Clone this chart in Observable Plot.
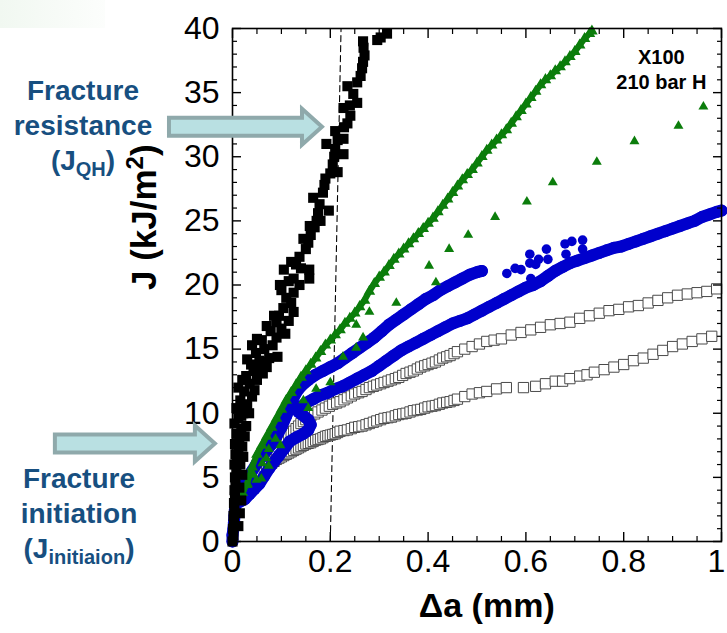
<!DOCTYPE html>
<html>
<head>
<meta charset="utf-8">
<script src="https://cdn.jsdelivr.net/npm/d3@7"></script>
<script src="https://cdn.jsdelivr.net/npm/@observablehq/plot@0.6"></script>
<style>
  body { margin: 0; background: #fff; }
  #wrap { position: relative; width: 727px; height: 633px; overflow: hidden; font-family: "Liberation Sans", Arial, sans-serif; }
  #wrap svg { position: absolute; left: 0; top: 0; }
  .tint { position: absolute; left: 0; top: 0; width: 105px; height: 28px; background: linear-gradient(to right, rgba(215,235,215,0.35), rgba(235,245,235,0.15)); }
  .note { position: absolute; width: 170px; text-align: center; color: #174f80; font-weight: bold; font-size: 28px; line-height: 35px; }
  .note sub { font-size: 20px; line-height: 0; vertical-align: -6px; }
</style>
</head>
<body>
<div id="wrap">
  <div class="tint"></div>
</div>
<script>
// ---- axis ticks and labels ----
const xMajor = [0, 0.2, 0.4, 0.6, 0.8, 1];
const xTickLabels = ["0", "0.2", "0.4", "0.6", "0.8", "1"];
const xMinor = [0.05, 0.1, 0.15, 0.25, 0.3, 0.35, 0.45, 0.5, 0.55, 0.65, 0.7, 0.75, 0.85, 0.9, 0.95];
const yMajor = [0, 5, 10, 15, 20, 25, 30, 35, 40];
const yTickLabels = ["0", "5", "10", "15", "20", "25", "30", "35", "40"];
const yMinor = [1,2,3,4,6,7,8,9,11,12,13,14,16,17,18,19,21,22,23,24,26,27,28,29,31,32,33,34,36,37,38,39];
const xTitle = "Δa (mm)";
const yTitle = "J (kJ/m²)";
const specimenLabel = "X100\n210 bar H";

// ---- series: [Δa (mm), J (kJ/m²)] ----
const blackSquares = [
  [0,0],[0.002,0.5],[0.001,1],[0.003,1.5],[0.002,2],[0.004,2.5],[0.003,3],[0.005,3.5],[0.004,4],[0.006,4.5],
  [0.005,5],[0.008,5.5],[0.004,6],[0.01,6.3],[0.006,6.8],[0.012,7.2],[0.005,7.6],[0.014,8],[0.008,8.4],[0.018,8.8],
  [0.004,9.2],[0.012,9.6],[0.022,10],[0.008,10.4],[0.03,10.7],[0.016,11],[0.04,11.3],[0.024,11.7],[0.012,12],[0.035,12.3],
  [0.05,12.6],[0.028,12.9],[0.062,13.1],[0.043,13.3],[0.07,13.6],[0.038,13.8],[0.055,14.1],[0.075,14.3],[0.092,14.4],[0.048,14.7],
  [0.065,15],[0.082,15.3],[0.04,15.3],[0.06,15.7],[0.09,15.9],[0.078,16.4],[0.1,16.6],[0.09,17.1],[0.115,17.2],[0.095,17.6],
  [0.125,17.9],[0.104,18.2],[0.12,18.6],[0.11,19],[0.125,19.4],[0.097,20],[0.137,20],[0.125,20.5],[0.157,20.5],[0.105,21.2],
  [0.157,21.2],[0.13,21.6],[0.137,22.2],[0.15,22.8],[0.155,23.3],[0.16,23.9],[0.168,24.5],[0.172,25],[0.197,25.8],[0.175,25.6],
  [0.178,26.3],[0.165,26.8],[0.185,27.2],[0.188,27.8],[0.19,28.3],[0.2,28.7],[0.215,28.8],[0.205,29.4],[0.208,30],[0.227,30.2],
  [0.21,30.6],[0.192,31],[0.215,31.3],[0.227,31.4],[0.21,32],[0.228,32.3],[0.235,32.6],[0.241,33.2],[0.227,33.8],[0.24,34],
  [0.255,34.2],[0.247,34.9],[0.235,35.5],[0.255,35.8],[0.262,36.3],[0.265,36.9],[0.267,37.4],[0.27,37.9],[0.268,38.5],[0.267,39],
  [0.296,39.1],[0.303,39.3],[0.316,39.6],
  [0.012,1.2],[0.015,2.2],[0.018,3.2],[0.014,4.2],[0.02,5.2],[0.016,6],[0.022,6.6],[0.02,7.4],[0.025,8.2],[0.028,9],
  [0.018,9.8],[0.034,10],[0.026,10.6],[0.045,11.8],[0.02,12.6],[0.055,13.6],[0.03,14.2],[0.068,14],[0.05,15.8],[0.07,16.8],
  [0.085,17.6],[0.108,16.2],[0.1,19.6],[0.115,20.3],[0.14,21.3],[0.12,21.8],[0.145,23.6],[0.158,24.6],[0.18,25]
];

const greenDense = [
  [0.02,3.8],[0.03,4.5],[0.04,5.8],[0.05,6.8],[0.06,7.5],[0.07,8.2],[0.08,8.9],[0.09,9.6],[0.1,10.3],[0.11,11.0],
  [0.12,11.6],[0.13,12.2],[0.14,12.8],[0.15,13.3],[0.16,13.8],[0.17,14.3],[0.18,14.8],[0.19,15.3],[0.2,15.7],[0.21,16.1],
  [0.22,16.5],[0.23,17.0],[0.24,17.4],[0.25,17.8],[0.26,18.3],[0.27,18.8],[0.28,19.5],[0.29,20.1],[0.3,20.6],[0.31,21.0],
  [0.32,21.5],[0.33,22.0],[0.34,22.4],[0.35,22.8],[0.36,23.2],[0.37,23.6],[0.38,24.0],[0.39,24.4],[0.40,24.8],[0.41,25.2],
  [0.42,25.7],[0.43,26.2],[0.44,26.7],[0.45,27.2],[0.46,27.7],[0.47,28.2],[0.48,28.6],[0.49,29.0],[0.50,29.5],[0.51,30.0],
  [0.52,30.5],[0.53,30.9],[0.54,31.3],[0.55,31.7],[0.56,32.1],[0.57,32.6],[0.58,33.1],[0.59,33.6],[0.60,34.1],[0.61,34.6],
  [0.62,35.1],[0.63,35.6],[0.64,36.0],[0.65,36.3],[0.66,36.7],[0.67,37.0],[0.68,37.4],[0.69,37.8],[0.70,38.2],[0.71,38.7],
  [0.72,39.2],[0.73,39.6],[0.735,39.8]
];

const greenSparse = [
  [0.014,4.2],[0.02,4.1],[0.03,4.4],[0.043,5.2],[0.049,4.8],[0.059,4.9],[0.061,6.1],[0.069,6.5],[0.074,5.9],[0.074,7.2],
  [0.088,8.0],[0.098,7.5],[0.145,11.0],[0.155,10.4],[0.171,11.9],[0.2,12.4],[0.226,14.4],[0.253,15.1],[0.267,15.9],[0.253,16.9],
  [0.28,17.9],[0.335,18.6],[0.402,21.5],[0.416,20.2],[0.443,22.8],[0.482,23.9],[0.537,25.3],[0.602,26.5],[0.655,28.0],[0.745,29.6],
  [0.822,31.2],[0.912,32.4],[0.963,33.9]
];

const blueLower = [
  [0,0],[0,0.5],[0.002,1],[0.003,1.5],[0.004,2],[0.005,2.5],[0.007,3],[0.015,3.1],[0.025,3.3],[0.035,3.7],
  [0.045,4.1],[0.055,4.5],[0.065,5.1],[0.075,5.7],[0.085,6.2],[0.095,6.7],[0.105,7.2],[0.117,7.8],[0.13,8.1],[0.145,8.4],
  [0.155,8.7],[0.16,9.1],[0.155,9.5],[0.145,9.8],[0.135,10.1],[0.14,10.5],[0.15,10.8],[0.165,11.1],[0.18,11.4],[0.195,11.6],
  [0.21,11.9],[0.225,12.1],[0.24,12.4],[0.255,12.7],[0.27,13.0],[0.285,13.3],[0.3,13.7],[0.315,14.1],[0.33,14.5],[0.345,14.9],
  [0.36,15.2],[0.375,15.5],[0.39,15.8],[0.405,16.1],[0.42,16.4],[0.435,16.7],[0.45,17.0],[0.465,17.2],[0.48,17.4],[0.495,17.7],
  [0.51,18.0],[0.525,18.3],[0.54,18.6],[0.555,18.9],[0.57,19.2],[0.585,19.5],[0.6,19.8],[0.615,20.0],[0.63,20.3],[0.645,20.7],
  [0.66,21.1],[0.675,21.4],[0.69,21.7],[0.705,21.9],[0.72,22.1],[0.735,22.3],[0.75,22.5],[0.765,22.7],[0.78,22.9],[0.795,23.0],
  [0.81,23.2],[0.825,23.4],[0.84,23.6],[0.855,23.8],[0.87,24.0],[0.885,24.2],[0.9,24.4],[0.915,24.6],[0.93,24.8],[0.945,25.0],
  [0.96,25.3],[0.975,25.5],[0.99,25.7],[1.0,25.8]
];

const blueUpper = [
  [0.02,4.2],[0.03,4.8],[0.04,5.5],[0.05,6.1],[0.06,6.6],[0.07,7.1],[0.08,7.6],[0.09,8.2],[0.1,8.9],[0.11,9.8],
  [0.12,10.8],[0.13,11.6],[0.14,12.1],[0.155,12.6],[0.17,13.0],[0.185,13.3],[0.2,13.6],[0.215,13.9],[0.23,14.3],[0.245,14.7],
  [0.26,15.1],[0.275,15.5],[0.29,15.9],[0.305,16.4],[0.32,16.9],[0.335,17.3],[0.35,17.7],[0.365,18.1],[0.38,18.5],[0.395,18.9],
  [0.41,19.2],[0.425,19.6],[0.44,19.9],[0.455,20.2],[0.47,20.5],[0.485,20.8],[0.5,21.0],[0.51,21.1]
];

const blueScatter = [
  [0.561,20.9],[0.578,21.3],[0.59,21.2],[0.608,22.4],[0.608,21.7],[0.61,20.5],[0.62,21.6],[0.626,22.0],[0.642,22.8],[0.645,22.0],
  [0.68,23.2],[0.682,22.4],[0.694,23.4],[0.716,23.5],[0.716,22.8]
];

const openUpper = [
  [0.11,8.0],[0.12,8.4],[0.13,8.8],[0.14,9.2],[0.15,9.5],[0.16,9.8],[0.175,10.1],[0.19,10.4],[0.205,10.7],[0.22,10.9],
  [0.235,11.2],[0.25,11.5],[0.265,11.7],[0.28,12.0],[0.295,12.2],[0.31,12.4],[0.325,12.6],[0.34,12.8],[0.355,13.1],[0.37,13.3],
  [0.385,13.6],[0.4,13.8],[0.415,14.0],[0.43,14.3],[0.445,14.5],[0.46,14.8],[0.475,15.0],[0.49,15.2],[0.505,15.4],[0.52,15.6],
  [0.535,15.7],[0.55,15.8],[0.57,16.1],[0.59,16.3],[0.61,16.5],[0.63,16.7],[0.65,16.9],[0.67,17.0],[0.69,17.1],[0.71,17.4],
  [0.73,17.6],[0.75,17.8],[0.77,18.0],[0.79,18.1],[0.81,18.3],[0.83,18.4],[0.85,18.6],[0.87,18.8],[0.89,19.0],[0.91,19.2],
  [0.93,19.3],[0.95,19.4],[0.97,19.5],[0.99,19.7],
  [0.115,8.2],[0.125,8.6],[0.135,9.0],[0.145,9.35],[0.155,9.65],[0.168,9.95],[0.183,10.25],[0.198,10.55],[0.213,10.8],[0.228,11.05],
  [0.243,11.35],[0.258,11.6],[0.273,11.85],[0.288,12.1],[0.303,12.3],[0.318,12.5],[0.333,12.7],[0.348,12.95],[0.363,13.2],[0.378,13.45],
  [0.393,13.7],[0.408,13.9],[0.423,14.15],[0.438,14.4],[0.453,14.65]
].sort((a, b) => a[0] - b[0]);

const openLower = [
  [0.06,5.4],[0.07,5.8],[0.08,6.1],[0.09,6.4],[0.1,6.6],[0.11,6.8],[0.12,7.0],[0.13,7.2],[0.14,7.4],[0.15,7.6],
  [0.16,7.7],[0.17,7.9],[0.18,8.0],[0.19,8.2],[0.2,8.3],[0.21,8.4],[0.22,8.6],[0.235,8.7],[0.25,8.9],[0.265,9.0],
  [0.28,9.2],[0.295,9.4],[0.31,9.6],[0.325,9.7],[0.34,9.9],[0.355,10.0],[0.37,10.2],[0.385,10.3],[0.4,10.5],[0.415,10.6],
  [0.43,10.8],[0.445,10.9],[0.46,11.1],[0.475,11.3],[0.49,11.5],[0.505,11.6],[0.52,11.7],[0.54,11.9],[0.56,12.0],[0.595,12.0],
  [0.62,12.1],[0.64,12.3],[0.66,12.5],[0.675,12.5],[0.69,12.7],[0.71,12.9],[0.725,13.0],[0.74,13.2],[0.76,13.4],[0.78,13.6],
  [0.8,13.8],[0.82,14.1],[0.84,14.3],[0.86,14.6],[0.88,14.9],[0.9,15.2],[0.92,15.4],[0.94,15.6],[0.96,15.8],[0.98,16.0],
  [0.065,5.6],[0.075,5.95],[0.085,6.25],[0.095,6.5],[0.105,6.7],[0.115,6.9],[0.125,7.1],[0.135,7.3],[0.145,7.5],[0.155,7.65],
  [0.165,7.8],[0.175,7.95],[0.185,8.1],[0.195,8.25],[0.205,8.35],[0.215,8.5],[0.228,8.65],[0.243,8.8],[0.258,8.95],[0.273,9.1],
  [0.288,9.3],[0.303,9.5],[0.318,9.65],[0.333,9.8],[0.348,9.95],[0.363,10.1],[0.378,10.25],[0.393,10.4],[0.408,10.55],[0.423,10.7],
  [0.438,10.85],[0.453,11.0]
].sort((a, b) => a[0] - b[0]);

// blunting / offset construction line
const dashLine = [[0.2, 0], [0.222, 40]];

// annotation arrows: tip position in data units, shaft length in px
const arrowTips = [
  { x: 0.184, y: 32.3, len: 153 },
  { x: -0.035, y: 7.6, len: 160 }
];

const px = d => d[0], py = d => d[1];
const BLUE = "#0000cc", GREEN = "#0b7d0b";

function arrowsMark(index, scales) {
  const g = d3.create("svg:g");
  for (const a of arrowTips) {
    const tx = scales.x(a.x), ty = scales.y(a.y);
    const L = a.len, hl = 20, hh = 18, sh = 9;
    const d = `M${tx},${ty}L${tx - hl},${ty - hh}L${tx - hl},${ty - sh}L${tx - L},${ty - sh}L${tx - L},${ty + sh}L${tx - hl},${ty + sh}L${tx - hl},${ty + hh}Z`;
    g.append("path").attr("d", d).attr("fill", "#b9e0e2").attr("stroke", "#8fa9ab").attr("stroke-width", 4);
  }
  return g.node();
}

const chart = Plot.plot({
  width: 727,
  height: 633,
  marginLeft: 232,
  marginRight: 6,
  marginTop: 28,
  marginBottom: 92,
  x: { domain: [0, 1], axis: null },
  y: { domain: [0, 40], axis: null },
  style: { fontFamily: "'Liberation Sans', Arial, sans-serif", background: "transparent", overflow: "visible" },
  marks: [
    Plot.line(dashLine, { x: px, y: py, stroke: "black", strokeWidth: 1.1, strokeDasharray: "6,4" }),
    Plot.dot(openLower, { x: px, y: py, symbol: "square", r: 5.8, fill: "white", stroke: "#4a4a4a", strokeWidth: 1 }),
    Plot.dot(openUpper, { x: px, y: py, symbol: "square", r: 5.8, fill: "white", stroke: "#4a4a4a", strokeWidth: 1 }),
    // dense filled circles merge into a band
    Plot.line(blueLower, { x: px, y: py, stroke: BLUE, strokeWidth: 12, strokeLinejoin: "round", strokeLinecap: "round" }),
    Plot.line(blueUpper, { x: px, y: py, stroke: BLUE, strokeWidth: 12, strokeLinejoin: "round", strokeLinecap: "round" }),
    Plot.dot(blueLower, { x: px, y: py, r: 6, fill: BLUE }),
    Plot.dot(blueUpper, { x: px, y: py, r: 6, fill: BLUE }),
    Plot.dot(blueScatter, { x: px, y: py, r: 4.8, fill: BLUE }),
    Plot.line(greenDense, { x: px, y: py, stroke: GREEN, strokeWidth: 6, strokeLinejoin: "round" }),
    Plot.dot(greenDense, { x: px, y: py, symbol: "triangle", r: 4.3, fill: GREEN }),
    Plot.dot(greenSparse, { x: px, y: py, symbol: "triangle", r: 3.7, fill: GREEN }),
    Plot.dot(blackSquares, { x: px, y: py, symbol: "square", r: 5.7, fill: "black" }),
    Plot.frame({ stroke: "black", strokeWidth: 1.6 }),
    // inward ticks on all four sides
    Plot.axisX(xMajor, { anchor: "bottom", tickSize: -9, fill: "none", label: null, strokeWidth: 1.4 }),
    Plot.axisX(xMinor, { anchor: "bottom", tickSize: -5, fill: "none", label: null, strokeWidth: 1.2 }),
    Plot.axisX(xMajor, { anchor: "top", tickSize: -9, fill: "none", label: null, strokeWidth: 1.4 }),
    Plot.axisX(xMinor, { anchor: "top", tickSize: -5, fill: "none", label: null, strokeWidth: 1.2 }),
    Plot.axisY(yMajor, { anchor: "left", tickSize: -9, fill: "none", label: null, strokeWidth: 1.4 }),
    Plot.axisY(yMinor, { anchor: "left", tickSize: -5, fill: "none", label: null, strokeWidth: 1.2 }),
    Plot.axisY(yMajor, { anchor: "right", tickSize: -9, fill: "none", label: null, strokeWidth: 1.4 }),
    Plot.axisY(yMinor, { anchor: "right", tickSize: -5, fill: "none", label: null, strokeWidth: 1.2 }),
    // tick labels (the last one nudged left so it stays inside the picture)
    Plot.axisX(xMajor.slice(0, -1), { anchor: "bottom", tickSize: 0, tickPadding: 8, label: null, fontSize: 32, fill: "black",
      tickFormat: d => xTickLabels[xMajor.indexOf(d)] }),
    Plot.axisX(xMajor.slice(-1), { anchor: "bottom", tickSize: 0, tickPadding: 8, label: null, fontSize: 32, fill: "black", dx: -5,
      tickFormat: d => xTickLabels[xMajor.indexOf(d)] }),
    Plot.axisY(yMajor, { anchor: "left", tickSize: 0, tickPadding: 13, label: null, fontSize: 32, fill: "black",
      tickFormat: d => yTickLabels[yMajor.indexOf(d)] }),
    // axis titles
    Plot.text([xTitle], { text: d => d, frameAnchor: "bottom", x: 0.52, dy: 75, fontSize: 34, fontWeight: "bold", fill: "black" }),
    Plot.text([yTitle], { text: d => d, frameAnchor: "left", dx: -88, dy: 5, rotate: -90, fontSize: 35, fontWeight: "bold", fill: "black" }),
    // specimen label
    Plot.text([specimenLabel], { text: d => d, x: 0.877, y: 36.9, fontSize: 20, fontWeight: "bold", lineHeight: 1.25, fill: "black" }),
    arrowsMark
  ]
});

// superscript for the y title
d3.select(chart).selectAll("text").each(function () {
  if (this.textContent === yTitle) {
    const t = d3.select(this);
    t.text(null);
    t.append("tspan").text("J (kJ/m");
    t.append("tspan").attr("font-size", 24).attr("dy", -13).text("2");
    t.append("tspan").attr("dy", 13).text(")");
  }
});

const wrap = document.getElementById("wrap");
wrap.appendChild(chart);

const notes = [
  { left: -2, top: 73, html: "Fracture<br>resistance<br>(J<sub>QH</sub>)" },
  { left: -6, top: 461, html: "Fracture<br>initiation<br>(J<sub>initiaion</sub>)" }
];
for (const n of notes) {
  const div = document.createElement("div");
  div.className = "note";
  div.style.left = n.left + "px";
  div.style.top = n.top + "px";
  div.innerHTML = n.html;
  wrap.appendChild(div);
}
</script>
</body>
</html>
